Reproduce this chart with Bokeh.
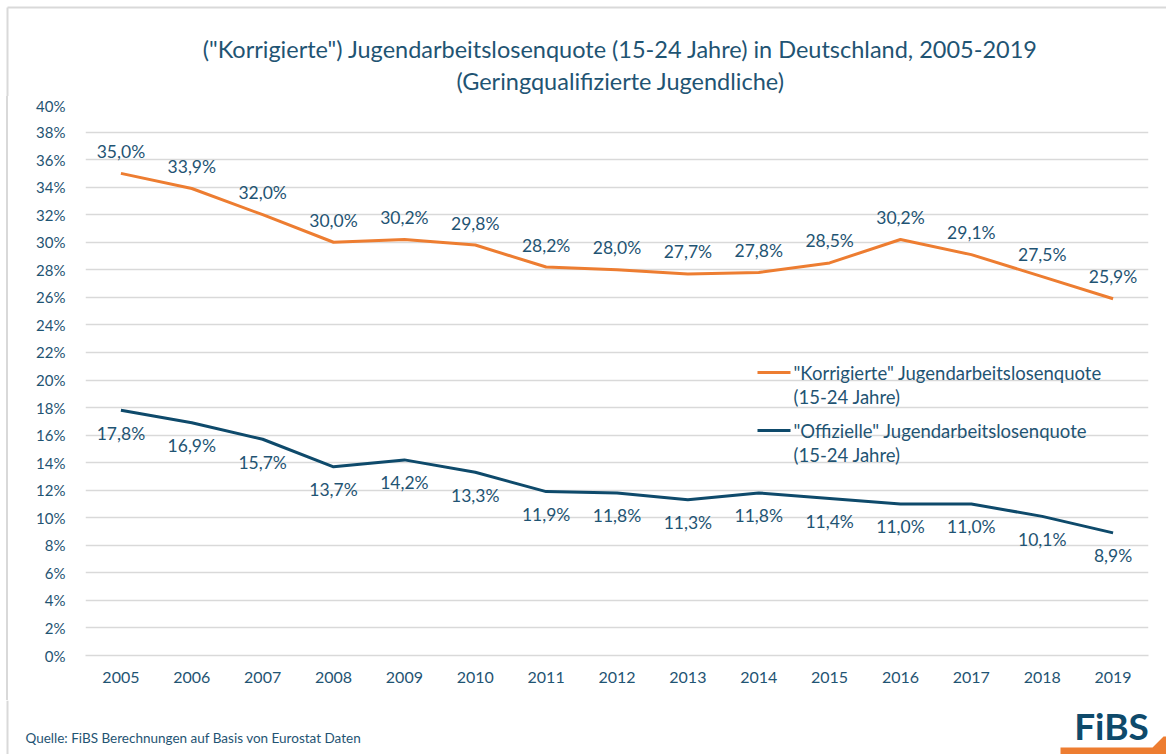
from bokeh.plotting import figure
from bokeh.layouts import column, row
from bokeh.models import (Label, FixedTicker, PrintfTickFormatter, ColumnDataSource,
                          BoxAnnotation, Range1d)
from bokeh.core.properties import value
from bokeh.embed import file_html
from bokeh.resources import INLINE

years = list(range(2005, 2020))
korrigiert = [35.0, 33.9, 32.0, 30.0, 30.2, 29.8, 28.2, 28.0, 27.7, 27.8, 28.5, 30.2, 29.1, 27.5, 25.9]
offiziell = [17.8, 16.9, 15.7, 13.7, 14.2, 13.3, 11.9, 11.8, 11.3, 11.8, 11.4, 11.0, 11.0, 10.1, 8.9]
title_lines = ['("Korrigierte") Jugendarbeitslosenquote (15-24 Jahre) in Deutschland, 2005-2019',
               '(Geringqualifizierte Jugendliche)']
legend_labels = [['"Korrigierte" Jugendarbeitslosenquote', '(15-24 Jahre)'],
                 ['"Offizielle" Jugendarbeitslosenquote', '(15-24 Jahre)']]
source_text = "Quelle: FiBS Berechnungen auf Basis von Eurostat Daten"

ORANGE = "#ED7D31"
NAVY = "#0E4A6B"
TEXT = "#1F5473"
GRID = "#D9D9D9"
FONT = "Lato"
W, H = 1166, 754
SW = 8                     # left offset of the chart (border line)
HEAD, FOOT = 96, 700       # page y where main chart starts / footer starts
FL, FR, FT, FB = 85, 1148, 104, 655   # frame edges in page pixels


def fx(x):  # page x -> frame screen x
    return x - FL


def fy(y):  # page y -> frame screen y (from frame bottom, upward)
    return FB - y


def fmt(v):
    return f"{v:.1f}".replace(".", ",") + "%"


def blank(w, h, xr, yr):
    f = figure(width=w, height=h, output_backend="svg", toolbar_location=None,
               x_range=Range1d(*xr), y_range=Range1d(*yr), x_axis_type=None, y_axis_type=None,
               min_border=0, min_border_left=0, min_border_right=0, min_border_top=0,
               min_border_bottom=0)
    f.outline_line_color = None
    f.grid.visible = False
    f.background_fill_color = "white"
    f.border_fill_color = "white"
    return f


src = ColumnDataSource(dict(
    x=years, k=korrigiert, o=offiziell,
    kl=[fmt(v) for v in korrigiert], ol=[fmt(v) for v in offiziell]))

# ---------- main chart ----------
p = figure(width=W - SW, height=FOOT - HEAD, output_backend="svg", toolbar_location=None,
           x_range=Range1d(2004.5, 2019.5), y_range=Range1d(0, 40),
           min_border_left=FL - SW, min_border_right=W - FR, min_border_top=FT - HEAD,
           min_border_bottom=FOOT - FB)
p.outline_line_color = None
p.background_fill_color = "white"
p.border_fill_color = "white"

p.xgrid.grid_line_color = None
p.ygrid.grid_line_color = GRID
p.ygrid.grid_line_width = 1.5
p.yaxis.ticker = FixedTicker(ticks=list(range(0, 41, 2)))
p.yaxis.formatter = PrintfTickFormatter(format="%d%%")
p.xaxis.ticker = FixedTicker(ticks=years)
for ax in (p.xaxis, p.yaxis):
    ax.major_tick_line_color = None
    ax.minor_tick_line_color = None
    ax.major_label_text_font = FONT
    ax.major_label_text_color = TEXT
p.yaxis.major_label_text_font_size = "15px"
p.xaxis.major_label_text_font_size = "16px"
p.yaxis.axis_line_color = None
p.xaxis.axis_line_color = GRID
p.xaxis.axis_line_width = 1.5
p.xaxis.major_label_standoff = 10
p.yaxis.major_label_standoff = 14

p.line("x", "k", source=src, color=ORANGE, line_width=3)
p.line("x", "o", source=src, color=NAVY, line_width=3)
p.text("x", "k", text="kl", source=src, text_align="center", text_baseline="middle",
       y_offset=-22, text_font=value(FONT), text_font_size="17.5px", text_color=TEXT)
p.text("x", "o", text="ol", source=src, text_align="center", text_baseline="middle",
       y_offset=23, text_font=value(FONT), text_font_size="17.5px", text_color=TEXT)

# legend
for i, (lines, col) in enumerate(zip(legend_labels, [ORANGE, NAVY])):
    ly = 372 + 58 * i
    p.add_layout(BoxAnnotation(left=fx(757), right=fx(790), bottom=fy(ly) - 1.5, top=fy(ly) + 1.5,
                               left_units="screen", right_units="screen",
                               bottom_units="screen", top_units="screen",
                               fill_color=col, fill_alpha=1, line_color=None))
    for j, t in enumerate(lines):
        p.add_layout(Label(x=fx(793), y=fy(ly + 24 * j), x_units="screen", y_units="screen",
                           text=t, text_align="left", text_baseline="middle",
                           text_font=FONT, text_font_size="18.5px", text_color=TEXT))

# ---------- header (title + chart border) ----------
head = blank(W, HEAD, (0, W), (HEAD, 0))
head.line(x=[7, W], y=[7, 7], color=GRID, line_width=2)
head.line(x=[7, 7], y=[7, HEAD], color=GRID, line_width=2)
head.text(x=[620, 620], y=[48, 80], text=title_lines, text_align="center",
          text_baseline="middle", text_font=value(FONT), text_font_size="23.5px",
          text_color=TEXT)

# ---------- footer (source, logo) ----------
foot = blank(W, H - FOOT, (0, W), (H, FOOT))
foot.line(x=[7, 7], y=[FOOT, H], color=GRID, line_width=2)
foot.text(x=[25], y=[737], text=[source_text], text_align="left", text_baseline="middle",
          text_font=value(FONT), text_font_size="13.5px", text_color=TEXT)
foot.text(x=[1111], y=[725], text=["FiBS"], text_align="center", text_baseline="middle",
          text_font=value(FONT), text_font_size="37px", text_font_style="bold",
          text_color=NAVY)
foot.patch(x=[1060, 1060, 1152, 1163, 1170, 1170], y=[756, 747, 747, 736, 736, 756],
           color=ORANGE, line_color=None)

mid = row(p, spacing=0, styles={"border-left": f"2px solid {GRID}", "margin-left": "6px"})
layout = column(row(head), mid, row(foot), spacing=0)
open("out.html", "w").write(file_html(layout, INLINE))
